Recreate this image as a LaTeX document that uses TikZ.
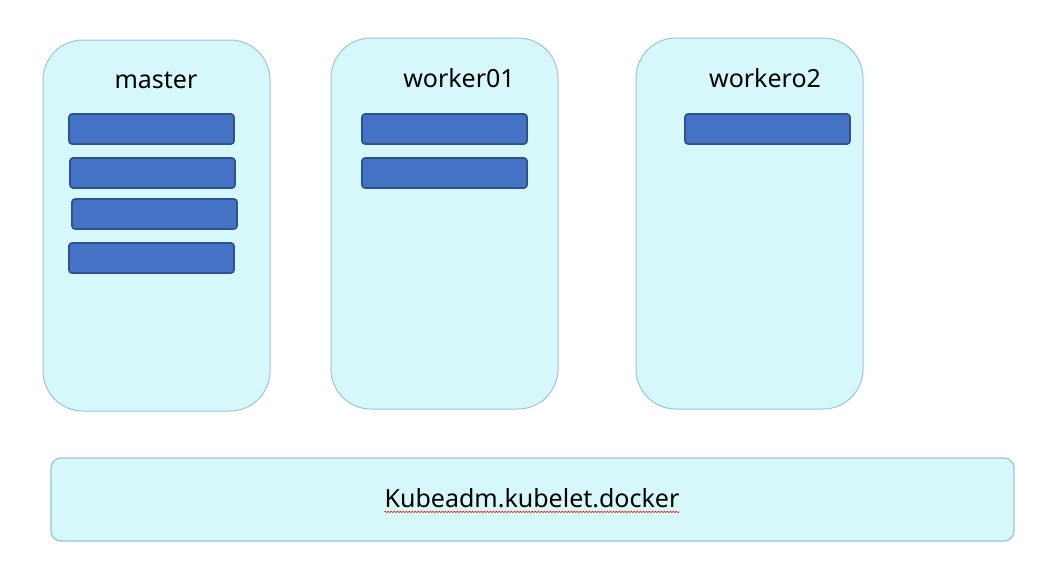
\documentclass[tikz,border=0pt]{standalone}
\usepackage{fontspec}
\setmainfont{Noto Sans}
\usetikzlibrary{decorations.pathmorphing}
\definecolor{hostfill}{HTML}{D7F8FB}
\definecolor{hostline}{HTML}{9DC3E6}
\definecolor{podfill}{HTML}{4472C4}
\definecolor{podline}{HTML}{2F528F}
\tikzset{
	host/.style={draw=hostline, fill=hostfill, rounded corners=40pt, line width=1pt, minimum width=227pt, minimum height=371pt, inner sep=0pt},
	base/.style={draw=hostline, fill=hostfill, rounded corners=10pt, line width=1.3pt, minimum width=963pt, minimum height=83pt, inner sep=0pt},
	pod/.style={draw=podline, fill=podfill, rounded corners=3pt, line width=1.6pt, minimum width=165pt, minimum height=30pt, inner sep=0pt},
	hostname/.style={font=\fontsize{25}{30}\selectfont, inner sep=0pt}
}
\begin{document}
\begin{tikzpicture}[x=1pt, y=-1pt]
	\useasboundingbox (0,0) rectangle (1047,584);
	\node[host] (master) at (156.5,225.5) {};
	\node[host] (worker01) at (444.5,223.5) {};
	\node[host] (workero2) at (749.5,223.5) {};
	\node[base] (base) at (532.5,499.5) {};
	\node[hostname] (mastername) at (156,80) {master};
	\node[hostname] (worker01name) at (459,78) {worker01};
	\node[hostname] (workero2name) at (765,78) {workero2};
	\node[hostname] (basename) at (532,498) {Kubeadm.kubelet.docker};
	\draw[red, line width=0.6pt, decoration={snake, amplitude=0.8pt, segment length=3pt}, decorate] (basename.south west) ++(0,4) -- ([yshift=-4pt]basename.south east);
	\node[pod] (m1) at (151.5,129) {};
	\node[pod] (m2) at (152.5,173) {};
	\node[pod] (m3) at (154.5,214) {};
	\node[pod] (m4) at (151.5,258) {};
	\node[pod] (w1) at (444.5,129) {};
	\node[pod] (w2) at (444.5,173) {};
	\node[pod] (v1) at (767.5,129) {};
\end{tikzpicture}
\end{document}
